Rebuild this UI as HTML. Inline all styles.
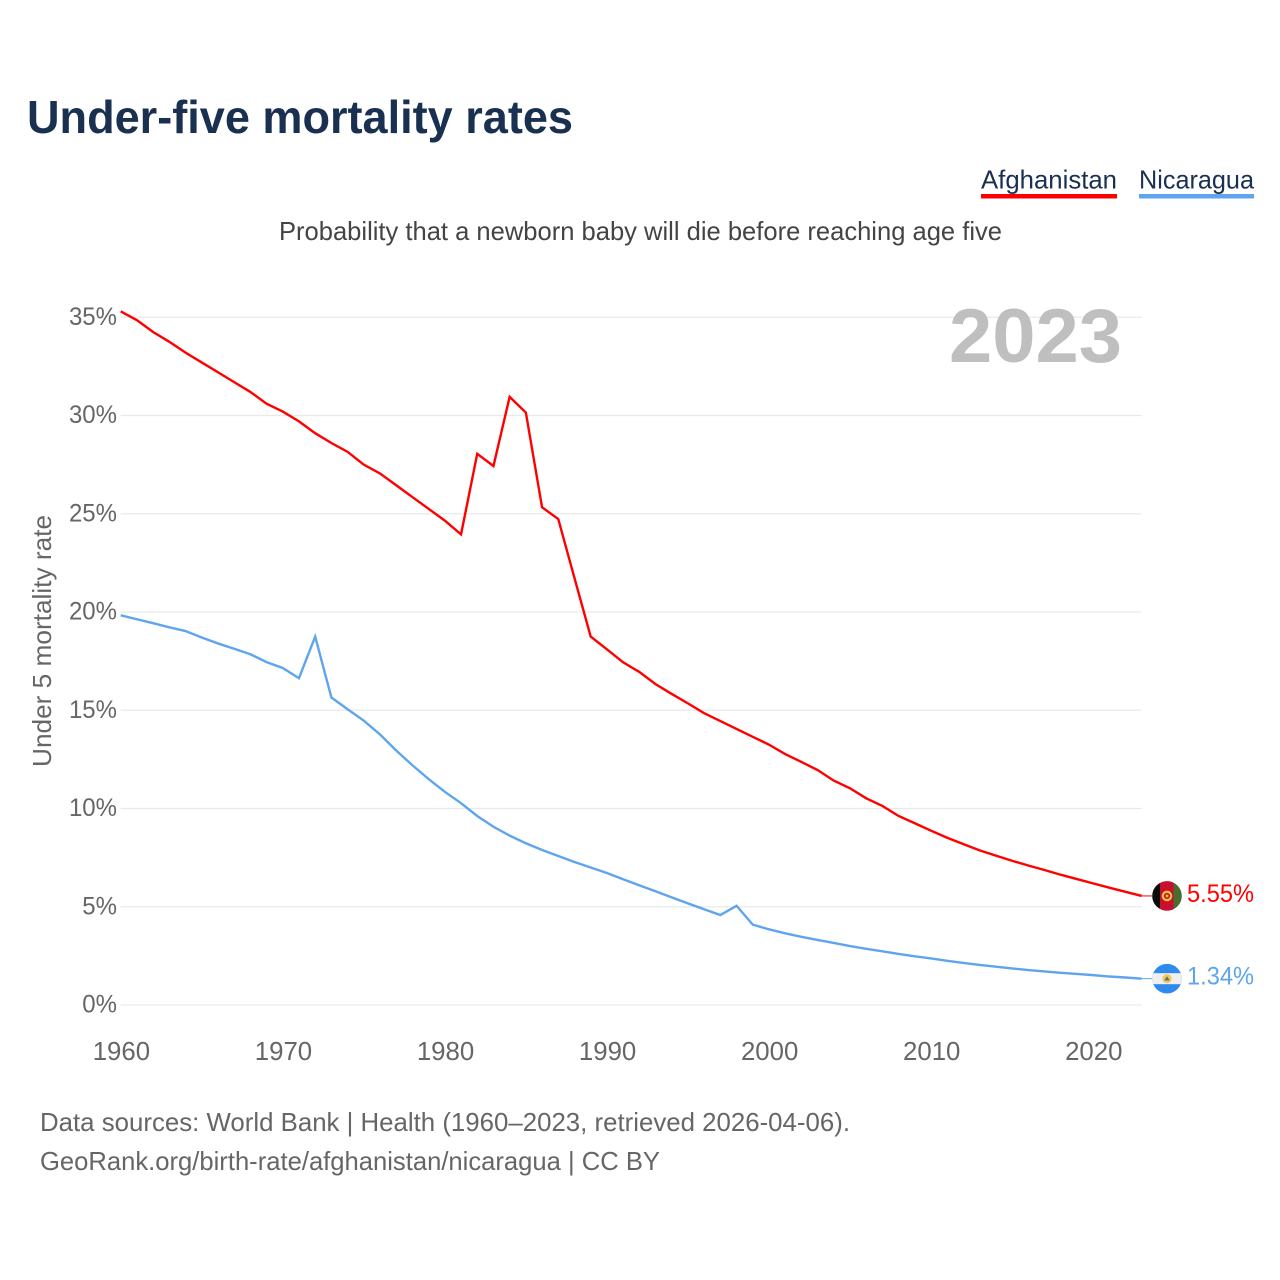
<!DOCTYPE html>
<html lang="en">
<head>
<meta charset="utf-8">
<title>Under-five mortality rates</title>
<style>
html,body{margin:0;padding:0;background:#fff;}
svg{display:block;}
text{font-family:"Liberation Sans",sans-serif;}
</style>
</head>
<body>
<svg id="chart" xmlns="http://www.w3.org/2000/svg" width="1280" height="1280" viewBox="0 0 1280 1280">
  <rect width="1280" height="1280" fill="#fff"/>
  <text x="27" y="133" font-size="46" font-weight="700" fill="#1a3050" textLength="546" lengthAdjust="spacingAndGlyphs">Under-five mortality rates</text>
  <g>
    <text x="981" y="188.5" font-size="26" fill="#1a3050" textLength="136" lengthAdjust="spacingAndGlyphs">Afghanistan</text>
    <rect x="981" y="194" width="136" height="4.5" fill="#ff0000"/>
  </g>
  <g>
    <text x="1139" y="188.5" font-size="26" fill="#1a3050" textLength="115" lengthAdjust="spacingAndGlyphs">Nicaragua</text>
    <rect x="1139" y="194" width="115" height="4.5" fill="#5fa5ee"/>
  </g>
  <text x="279" y="240" font-size="26" fill="#444" textLength="723" lengthAdjust="spacingAndGlyphs">Probability that a newborn baby will die before reaching age five</text>
  <g id="grid"></g>
  <text x="949" y="362" font-size="76" font-weight="700" fill="#bfbfbf" textLength="173" lengthAdjust="spacingAndGlyphs">2023</text>
  <g id="yticks"></g>
  <g id="xticks"></g>
  <text transform="translate(51,641) rotate(-90)" text-anchor="middle" font-size="26" fill="#666" textLength="252" lengthAdjust="spacingAndGlyphs">Under 5 mortality rate</text>
  <g id="series"></g>
  <g id="flag-af">
    <clipPath id="clip-af"><circle cx="0" cy="0" r="14.8"/></clipPath>
    <g clip-path="url(#clip-af)">
      <rect x="-15" y="-15" width="8" height="30" fill="#0a0a0a"/>
      <rect x="-7" y="-15" width="13.5" height="30" fill="#c8102e"/>
      <rect x="6.5" y="-15" width="8.5" height="30" fill="#4a6b32"/>
    </g>
    <circle cx="0" cy="0" r="4.2" fill="none" stroke="#f5c13d" stroke-width="2.2"/>
    <circle cx="0" cy="0" r="1.4" fill="#f5c13d"/>
  </g>
  <g id="flag-ni">
    <clipPath id="clip-ni"><circle cx="0" cy="0" r="14.8"/></clipPath>
    <g clip-path="url(#clip-ni)">
      <rect x="-15" y="-15" width="30" height="30" fill="#2f8aee"/>
      <rect x="-15" y="-5.5" width="30" height="11" fill="#efefef"/>
    </g>
    <circle cx="0" cy="0" r="4.6" fill="#f6c755"/>
    <polygon points="-2.8,1.8 2.8,1.8 0,-2.4" fill="#5a6f8c"/>
  </g>
  <g id="end-labels"></g>
  <text x="40" y="1131" font-size="26" fill="#666" textLength="810" lengthAdjust="spacingAndGlyphs">Data sources: World Bank | Health (1960–2023, retrieved 2026-04-06).</text>
  <text x="40" y="1170" font-size="26" fill="#666" textLength="620" lengthAdjust="spacingAndGlyphs">GeoRank.org/birth-rate/afghanistan/nicaragua | CC BY</text>
</svg>
<script>
const years = [1960,1961,1962,1963,1964,1965,1966,1967,1968,1969,1970,1971,1972,1973,1974,1975,1976,1977,1978,1979,1980,1981,1982,1983,1984,1985,1986,1987,1988,1989,1990,1991,1992,1993,1994,1995,1996,1997,1998,1999,2000,2001,2002,2003,2004,2005,2006,2007,2008,2009,2010,2011,2012,2013,2014,2015,2016,2017,2018,2019,2020,2021,2022,2023];
const afghanistanRates = [35.3,34.85,34.25,33.75,33.2,32.7,32.2,31.7,31.2,30.6,30.2,29.7,29.1,28.6,28.15,27.5,27.05,26.45,25.85,25.25,24.65,23.95,28.05,27.43,30.95,30.15,25.33,24.73,21.73,18.75,18.1,17.44,16.95,16.33,15.83,15.35,14.85,14.45,14.05,13.65,13.25,12.77,12.37,11.96,11.42,11.03,10.52,10.13,9.62,9.25,8.87,8.51,8.19,7.87,7.6,7.34,7.1,6.87,6.63,6.41,6.19,5.97,5.76,5.55];
const nicaraguaRates = [19.83,19.63,19.43,19.22,19.03,18.7,18.4,18.13,17.85,17.45,17.15,16.63,18.75,15.65,15.05,14.47,13.77,12.95,12.2,11.5,10.85,10.27,9.62,9.07,8.62,8.23,7.89,7.58,7.28,7.0,6.72,6.4,6.09,5.79,5.48,5.17,4.87,4.58,5.05,4.09,3.85,3.65,3.47,3.31,3.16,3.0,2.86,2.73,2.6,2.48,2.37,2.25,2.14,2.04,1.95,1.86,1.78,1.71,1.64,1.58,1.52,1.45,1.4,1.34];
const yTickValues = [0,5,10,15,20,25,30,35];
const xTickValues = [1960,1970,1980,1990,2000,2010,2020];

const NS = 'http://www.w3.org/2000/svg';
function xScale(year){ return 120.7 + (year - 1960) * (1141.7 - 120.7) / 63; }
function yScale(rate){ return 1005 - rate * 19.65; }
function make(tag, parent){ const el = document.createElementNS(NS, tag); parent.appendChild(el); return el; }

const grid = document.getElementById('grid');
const yticks = document.getElementById('yticks');
yTickValues.forEach(function(v){
  const line = make('line', grid);
  
  
  line.setAttribute('x1', xScale(1960));
  line.setAttribute('x2', xScale(2023));
  line.setAttribute('y1', yScale(v));
  line.setAttribute('y2', yScale(v));
  line.setAttribute('stroke', '#e9e9e9');
  line.setAttribute('stroke-width', '1.2');
  const t = make('text', yticks);
  
  
  t.setAttribute('x', 117);
  t.setAttribute('y', yScale(v) + 7.5);
  t.setAttribute('text-anchor', 'end');
  t.setAttribute('font-size', '25');
  t.setAttribute('fill', '#666');
  t.textContent = v + '%';
  t.setAttribute('textLength', t.getComputedTextLength() * 0.96);
  t.setAttribute('lengthAdjust', 'spacingAndGlyphs');
});

const xticks = document.getElementById('xticks');
xTickValues.forEach(function(v){
  const t = make('text', xticks);
  
  
  t.setAttribute('x', xScale(v) + 0.7);
  t.setAttribute('y', 1060);
  t.setAttribute('text-anchor', 'middle');
  t.setAttribute('font-size', '25.8');
  t.setAttribute('fill', '#666');
  t.textContent = v;
});

function linePath(values){
  return values.map(function(v, i){
    return (i ? 'L' : 'M') + xScale(years[i]).toFixed(2) + ' ' + yScale(v).toFixed(2);
  }).join(' ');
}

const seriesGroup = document.getElementById('series');
const endLabels = document.getElementById('end-labels');

const afLine = make('path', seriesGroup);


afLine.setAttribute('d', linePath(afghanistanRates));
afLine.setAttribute('fill', 'none');
afLine.setAttribute('stroke', '#ff0000');
afLine.setAttribute('stroke-width', '2.4');
afLine.setAttribute('stroke-linejoin', 'miter');

const niLine = make('path', seriesGroup);


niLine.setAttribute('d', linePath(nicaraguaRates));
niLine.setAttribute('fill', 'none');
niLine.setAttribute('stroke', '#5fa5ee');
niLine.setAttribute('stroke-width', '2.4');
niLine.setAttribute('stroke-linejoin', 'miter');

const afEnd = afghanistanRates[afghanistanRates.length - 1];
const niEnd = nicaraguaRates[nicaraguaRates.length - 1];

const afStub = make('line', seriesGroup);


afStub.setAttribute('x1', xScale(2023));
afStub.setAttribute('x2', 1152);
afStub.setAttribute('y1', yScale(afEnd));
afStub.setAttribute('y2', yScale(afEnd));
afStub.setAttribute('stroke', '#ff0000');
afStub.setAttribute('stroke-width', '1');

const niStub = make('line', seriesGroup);


niStub.setAttribute('x1', xScale(2023));
niStub.setAttribute('x2', 1152);
niStub.setAttribute('y1', yScale(niEnd));
niStub.setAttribute('y2', yScale(niEnd));
niStub.setAttribute('stroke', '#5fa5ee');
niStub.setAttribute('stroke-width', '1');

document.getElementById('flag-af').setAttribute('transform', 'translate(1167,' + yScale(afEnd) + ')');
document.getElementById('flag-ni').setAttribute('transform', 'translate(1167,' + yScale(niEnd) + ')');

const afLabel = make('text', endLabels);


afLabel.setAttribute('x', 1187);
afLabel.setAttribute('y', yScale(afEnd) + 6);
afLabel.setAttribute('font-size', '25');
afLabel.setAttribute('fill', '#ff0000');
afLabel.setAttribute('textLength', '67');
afLabel.setAttribute('lengthAdjust', 'spacingAndGlyphs');
afLabel.textContent = afEnd.toFixed(2) + '%';

const niLabel = make('text', endLabels);


niLabel.setAttribute('x', 1187);
niLabel.setAttribute('y', yScale(niEnd) + 6);
niLabel.setAttribute('font-size', '25');
niLabel.setAttribute('fill', '#5fa5ee');
niLabel.setAttribute('textLength', '67');
niLabel.setAttribute('lengthAdjust', 'spacingAndGlyphs');
niLabel.textContent = niEnd.toFixed(2) + '%';
</script>
</body>
</html>
